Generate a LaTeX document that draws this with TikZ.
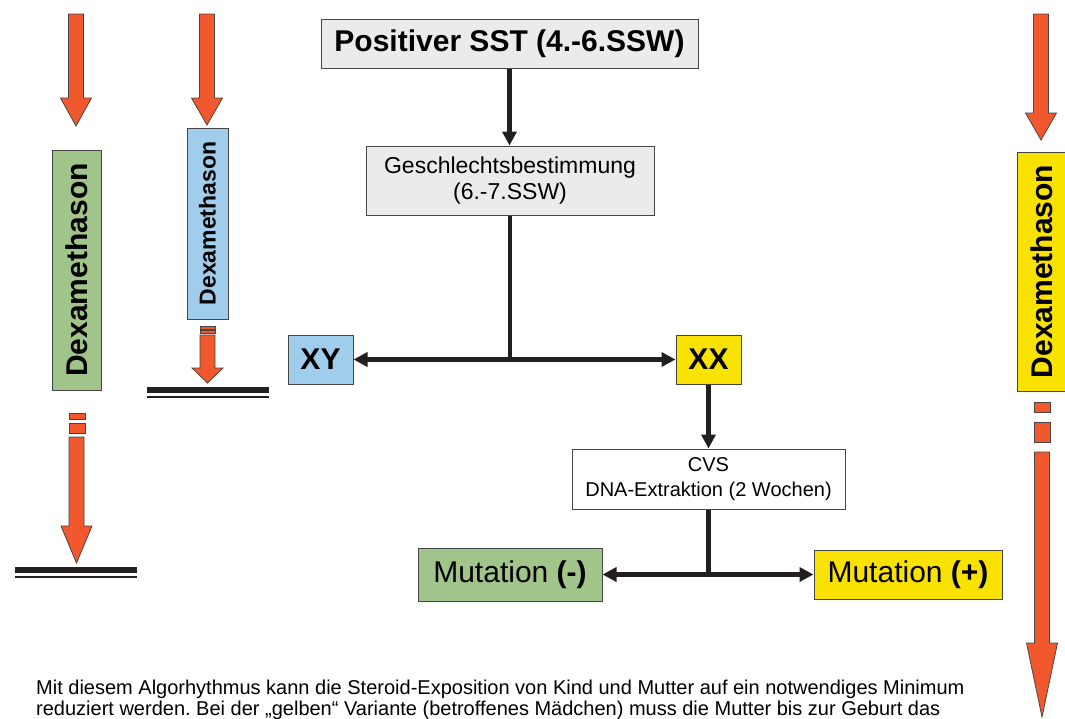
\documentclass[tikz,border=0pt]{standalone}
\usepackage{fontspec}
\setmainfont{Liberation Sans}
\usepackage{tikz}
\usetikzlibrary{arrows.meta,calc}
\definecolor{dexorange}{RGB}{241,88,45}
\definecolor{dexgreen}{RGB}{161,196,138}
\definecolor{dexblue}{RGB}{159,205,235}
\definecolor{dexyellow}{RGB}{250,226,0}
\definecolor{boxgray}{RGB}{235,235,235}
\definecolor{linedark}{RGB}{35,31,32}
\definecolor{boxedge}{RGB}{70,70,70}
\tikzset{
 flow line/.style={line width=4.5pt,draw=linedark},
 flow arrow/.style={flow line,-{Triangle[length=14pt,width=14pt]}},
 flow box/.style={draw=boxedge,line width=1pt,inner sep=0pt,align=center},
 dex box/.style={flow box,rotate=90,font=\bfseries\fontsize{30}{30}\selectfont},
 dex arrow/.style={fill=dexorange,draw=boxedge,line width=0.8pt},
 base thick/.style={line width=6pt,draw=linedark},
 base thin/.style={line width=2pt,draw=linedark}
}
% downward block arrow: x, top, head base, tip
\newcommand{\dexdown}[4]{%
 \filldraw[dex arrow] (#1-7.5,#2) -- (#1+7.5,#2) -- (#1+7.5,#3) -- (#1+15.5,#3)
   -- (#1,#4) -- (#1-15.5,#3) -- (#1-7.5,#3) -- cycle;}
\frenchspacing
\begin{document}
\begin{tikzpicture}[x=1pt,y=-1pt]
 \useasboundingbox (0,0) rectangle (1065,718);

 % flow chart
 \node[flow box,fill=boxgray,minimum width=377,minimum height=49,
       font=\bfseries\fontsize{30}{30}\selectfont] (sst) at (509.5,43.5)
   {Positiver SST (4.-6.SSW)};
 \node[flow box,fill=boxgray,minimum width=288,minimum height=69,
       font=\fontsize{23}{26}\selectfont] (gesch) at (510,180.5)
   {Geschlechtsbestimmung\\(6.-7.SSW)};
 \node[flow box,fill=dexblue,minimum width=65,minimum height=49,
       font=\bfseries\fontsize{30}{30}\selectfont] (xy) at (320.5,359.5) {XY};
 \node[flow box,fill=dexyellow,minimum width=65,minimum height=49,
       font=\bfseries\fontsize{30}{30}\selectfont] (xx) at (708.5,359.5) {XX};
 \node[flow box,fill=white,minimum width=273,minimum height=60,
       font=\fontsize{20}{25}\selectfont] (cvs) at (708.5,479)
   {CVS\\DNA-Extraktion (2 Wochen)};
 \node[flow box,fill=dexgreen,minimum width=184,minimum height=53,
       font=\fontsize{30}{30}\selectfont] (mutneg) at (510,574.5)
   {Mutation \textbf{(-)}};
 \node[flow box,fill=dexyellow,minimum width=188,minimum height=49,
       font=\fontsize{30}{30}\selectfont] (mutpos) at (908,574.5)
   {Mutation \textbf{(+)}};

 \coordinate (split1) at (gesch.south |- xy.east);
 \coordinate (split2) at (cvs.south |- mutneg.east);
 \draw[flow arrow] (sst.south) -- (sst.south |- gesch.north);
 \draw[flow line] (gesch.south) -- (split1);
 \draw[flow arrow] (split1) -- (xy.east);
 \draw[flow arrow] (split1) -- (xx.west);
 \draw[flow arrow] (xx.south) -- (xx.south |- cvs.north);
 \draw[flow line] (cvs.south) -- (split2);
 \draw[flow arrow] (split2) -- (mutneg.east);
 \draw[flow arrow] (split2) -- (split2 -| mutpos.west);

 % left column: green
 \dexdown{76}{14}{98}{126}
 \node[dex box,fill=dexgreen,minimum width=240,minimum height=49] (dexgreen) at (76.5,270) {Dexamethason};
 \filldraw[dex arrow] (69,413) rectangle (85,419);
 \filldraw[dex arrow] (69,423) rectangle (85,433);
 \dexdown{76.5}{437}{526}{563}
 \draw[base thick] (15,570) -- (137,570);
 \draw[base thin] (15,577) -- (137,577);

 % second column: blue
 \dexdown{207}{14}{98}{125}
 \node[dex box,fill=dexblue,minimum width=191,minimum height=41,
       font=\bfseries\fontsize{23}{23}\selectfont] (dexblue) at (207.5,223.5) {Dexamethason};
 \filldraw[dex arrow] (200,326) rectangle (215,329);
 \filldraw[dex arrow] (200,330.5) rectangle (215,333.5);
 \dexdown{207.5}{335}{368}{383}
 \draw[base thick] (147,390) -- (269,390);
 \draw[base thin] (147,397) -- (269,397);

 % right column: yellow
 \dexdown{1041}{14}{113}{140}
 \node[dex box,fill=dexyellow,minimum width=239,minimum height=50] (dexyellow) at (1042,271.5) {Dexamethason};
 \filldraw[dex arrow] (1034,402) rectangle (1050,412);
 \filldraw[dex arrow] (1034,422) rectangle (1050,442);
 \dexdown{1042}{452}{643}{717}

 % note
 \node[anchor=base west,inner sep=0pt,align=left,
       font=\fontsize{20}{21}\selectfont] (note) at (36,715)
   {Mit diesem Algorhythmus kann die Steroid-Exposition von Kind und Mutter auf ein notwendiges Minimum\\
    reduziert werden. Bei der „gelben“ Variante (betroffenes Mädchen) muss die Mutter bis zur Geburt das};
\end{tikzpicture}
\end{document}
